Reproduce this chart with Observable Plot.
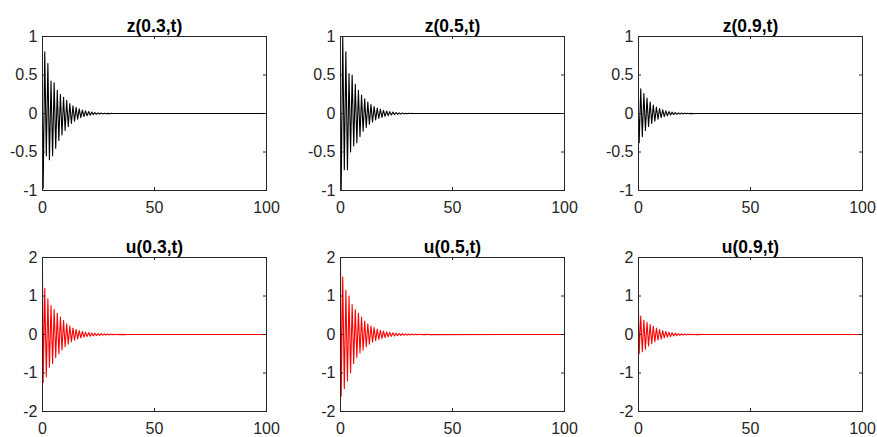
<!DOCTYPE html>
<html><head><meta charset="utf-8">
<script src="https://cdn.jsdelivr.net/npm/d3@7"></script>
<script src="https://cdn.jsdelivr.net/npm/@observablehq/plot@0.6"></script>
<style>
body{margin:0;background:#fff;}
#fig{position:relative;width:877px;height:437px;overflow:hidden;background:#fff;}
#fig svg{position:absolute;}
</style></head><body><div id="fig"></div>
<script>
// time of each read-off extreme (shared by all six series)
const time = [0,
 0.3,1.0,1.7,2.4,3.1,3.8,4.5,5.2,5.9,6.6,7.3,8.0,8.7,9.4,10.1,10.8,11.5,12.2,12.9,13.6,
 14.3,15.0,15.7,16.4,17.1,17.8,18.5,19.2,19.9,20.6,21.3,22.0,22.7,23.4,24.1,24.8,25.5,26.2,26.9,27.6,
 28.3,29.0,29.7,30.4,31.1,31.8,32.5,33.2,33.9,34.6,35.3,36.0,36.7,37.4,38.1,38.8,39.5,
 100];

const z03 = [0,
 -0.97,0.80,-0.55,0.65,-0.60,0.42,-0.55,0.40,-0.45,0.30,-0.35,0.25,-0.28,0.21,-0.22,0.17,-0.17,0.13,-0.13,0.10,
 -0.10,0.08,-0.075,0.06,-0.055,0.045,-0.04,0.035,-0.03,0.025,-0.022,0.018,-0.015,0.012,-0.01,0.008,-0.007,0.006,-0.005,0.004,
 -0.003,0.002,-0.002,0.001,0,0,0,0,0,0,0,0,0,0,0,0,0,
 0];
const z05 = [0,
 -1.0,1.0,-0.73,0.80,-0.73,0.52,-0.50,0.50,-0.42,0.38,-0.38,0.30,-0.30,0.24,-0.23,0.19,-0.18,0.15,-0.14,0.115,
 -0.11,0.09,-0.085,0.07,-0.065,0.055,-0.05,0.042,-0.038,0.032,-0.028,0.024,-0.021,0.018,-0.015,0.013,-0.011,0.009,-0.008,0.006,
 -0.005,0.004,-0.003,0.002,-0.001,0.001,0,0,0,0,0,0,0,0,0,0,0,
 0];
const z09 = [0,
 -0.38,0.32,-0.30,0.26,-0.22,0.20,-0.17,0.15,-0.13,0.11,-0.10,0.085,-0.075,0.063,-0.055,0.047,-0.04,0.034,-0.029,0.025,
 -0.021,0.018,-0.015,0.013,-0.011,0.009,-0.008,0.007,-0.006,0.005,-0.004,0.003,-0.003,0.002,-0.002,0.001,-0.001,0,0,0,
 0,0,0,0,0,0,0,0,0,0,0,0,0,0,0,0,0,
 0];
const u03 = [1.6,
 -1.25,1.20,-1.10,0.93,-0.85,0.75,-0.75,0.65,-0.60,0.55,-0.50,0.45,-0.40,0.36,-0.32,0.28,-0.25,0.22,-0.19,0.17,
 -0.15,0.13,-0.115,0.10,-0.09,0.08,-0.07,0.062,-0.055,0.05,-0.045,0.04,-0.035,0.031,-0.028,0.025,-0.022,0.02,-0.018,0.016,
 -0.014,0.012,-0.011,0.01,-0.009,0.008,-0.007,0.006,-0.005,0.004,-0.004,0.003,-0.003,0.002,-0.002,0.001,-0.001,
 0];
const u05 = [2.0,
 -1.6,1.5,-1.4,1.15,-1.2,1.0,-1.0,0.78,-0.75,0.65,-0.6,0.55,-0.48,0.45,-0.4,0.35,-0.32,0.28,-0.25,0.22,
 -0.2,0.18,-0.16,0.14,-0.125,0.11,-0.1,0.088,-0.078,0.07,-0.062,0.055,-0.049,0.043,-0.038,0.034,-0.03,0.027,-0.024,0.021,
 -0.019,0.017,-0.015,0.013,-0.012,0.011,-0.01,0.009,-0.008,0.007,-0.006,0.005,-0.005,0.004,-0.003,0.003,-0.002,
 0];
const u09 = [0.65,
 -0.5,0.48,-0.45,0.37,-0.38,0.32,-0.3,0.26,-0.24,0.21,-0.19,0.17,-0.15,0.13,-0.12,0.1,-0.09,0.08,-0.07,0.06,
 -0.053,0.046,-0.04,0.035,-0.03,0.026,-0.022,0.019,-0.016,0.014,-0.012,0.01,-0.009,0.008,-0.007,0.006,-0.005,0.004,-0.003,0.003,
 -0.002,0.002,-0.001,0.001,0,0,0,0,0,0,0,0,0,0,0,0,0,
 0];

const titles = ["z(0.3,t)","z(0.5,t)","z(0.9,t)","u(0.3,t)","u(0.5,t)","u(0.9,t)"];
const seriesList = [z03, z05, z09, u03, u05, u09];
const colors = ["#000000","#000000","#000000","#ff0000","#ff0000","#ff0000"];
const xTicks = [0, 50, 100];
const zTicks = [-1, -0.5, 0, 0.5, 1];
const uTicks = [-2, -1, 0, 1, 2];
const zDomain = [-1, 1];
const uDomain = [-2, 2];

// layout (pixels)
const fw = 224, fh = 154;
const ml = 42, mr = 14, mt = 36, mb = 26;
const colLeft = [0, 298, 596];
const rowTop = [0, 221];
const axColor = "#262626";
const fig = document.getElementById("fig");

seriesList.forEach((vals, i) => {
  const row = Math.floor(i / 3), col = i % 3;
  const data = time.map((t, k) => ({t, v: vals[k]}));
  const yTicks = row === 0 ? zTicks : uTicks;
  const yDomain = row === 0 ? zDomain : uDomain;
  const chart = Plot.plot({
    width: ml + fw + mr,
    height: mt + fh + mb,
    marginLeft: ml, marginRight: mr, marginTop: mt, marginBottom: mb,
    style: {fontFamily: "'Liberation Sans', Arial, Helvetica, sans-serif", fontSize: "16px", color: axColor, background: "transparent", overflow: "visible"},
    x: {domain: [0, 100], label: null},
    y: {domain: yDomain, label: null},
    marks: [
      Plot.line(data, {x: "t", y: "v", stroke: colors[i], strokeWidth: 1.1}),
      Plot.frame({stroke: axColor, strokeWidth: 1}),
      Plot.ruleX(xTicks, {x: d => d, insetTop: fh - 3, stroke: axColor}),
      Plot.ruleX(xTicks, {x: d => d, insetBottom: fh - 3, stroke: axColor}),
      Plot.ruleY(yTicks, {y: d => d, insetRight: fw - 3, stroke: axColor}),
      Plot.ruleY(yTicks, {y: d => d, insetLeft: fw - 3, stroke: axColor}),
      Plot.axisX(xTicks, {tickSize: 0, tickPadding: 11, fill: axColor, fontSize: 16, label: null, tickFormat: d => String(d)}),
      Plot.axisY(yTicks, {tickSize: 0, tickPadding: 5, fill: axColor, fontSize: 16, label: null, tickFormat: d => String(d)}),
      Plot.text([titles[i]], {frameAnchor: "top", lineAnchor: "bottom", dy: -5, fontWeight: "bold", fontSize: 17.5, fill: "#000"})
    ]
  });
  chart.style.left = colLeft[col] + "px";
  chart.style.top = rowTop[row] + "px";
  fig.appendChild(chart);
});
</script>
</body></html>
